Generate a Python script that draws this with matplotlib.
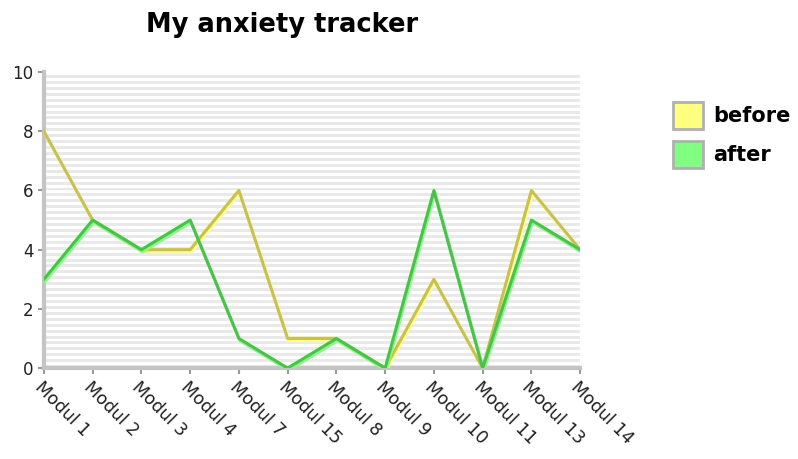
import numpy as np
import matplotlib
matplotlib.use("Agg")
import matplotlib.pyplot as plt
import matplotlib.patheffects as pe
from matplotlib.patches import Patch

modules = ["Modul 1", "Modul 2", "Modul 3", "Modul 4", "Modul 7", "Modul 15",
           "Modul 8", "Modul 9", "Modul 10", "Modul 11", "Modul 13", "Modul 14"]
before = [8, 5, 4, 4, 6, 1, 1, 0, 3, 0, 6, 4]
after = [3, 5, 4, 5, 1, 0, 1, 0, 6, 0, 5, 4]

fig = plt.figure(figsize=(7.98, 4.59), dpi=100)
ax = fig.add_axes([0.055, 0.198, 0.672, 0.645])

# striped background
for y0 in np.arange(0, 10, 0.2):
    ax.axhspan(y0, y0 + 0.1, color="#e9e9e9", lw=0, zorder=0)

x = np.arange(len(modules))
series = [
    (before, "before", "#c8c050", "#ffff80"),
    (after, "after", "#4cc04c", "#80ff80"),
]
for vals, name, dark, light in series:
    ax.plot(x, vals, color=dark, lw=2.2, zorder=3,
            path_effects=[pe.SimpleLineShadow(offset=(0.8, -1.6), shadow_color=light, alpha=1.0, linewidth=2.2),
                          pe.Normal()])

ax.set_xlim(0, len(modules) - 1)
ax.set_ylim(0, 10)
ax.set_yticks([0, 2, 4, 6, 8, 10])
ax.set_xticks(x)
ax.set_xticklabels(modules, rotation=-45, ha="left", va="top", rotation_mode="anchor", fontsize=12.5)
ax.tick_params(axis="y", labelsize=12, color="#999999", labelcolor="#222222", length=4, width=1.5)
ax.tick_params(axis="x", color="#999999", labelcolor="#222222", length=4, width=1.5)

for side in ["top", "right"]:
    ax.spines[side].set_visible(False)
for side in ["left", "bottom"]:
    ax.spines[side].set_color("#c4c4c4")
    ax.spines[side].set_linewidth(3)

fig.text(0.353, 0.945, "My anxiety tracker", ha="center", va="center", fontsize=18.5, fontweight="bold")

handles = [Patch(facecolor=light, edgecolor="#b0b0b0", linewidth=2, label=name) for _, name, _, light in series]
fig.legend(handles=handles, loc="upper left", bbox_to_anchor=(0.843, 0.778), frameon=False,
           prop={"weight": "bold", "size": 15}, handlelength=1.45, handleheight=1.65, handletextpad=0.5,
           labelspacing=0.55, borderaxespad=0, borderpad=0)

fig.savefig("out.png", dpi=100)
